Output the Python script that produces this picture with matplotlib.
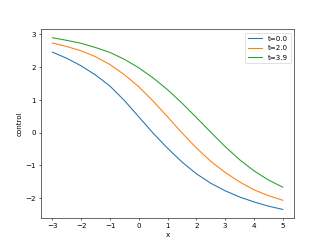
import matplotlib
matplotlib.use("Agg")
import matplotlib.pyplot as plt

x = [-3, -2.5, -2, -1.5, -1, -0.5, 0, 0.5, 1, 1.5, 2, 2.5, 3, 3.5, 4, 4.5, 5]
u_t0 = [2.46, 2.27, 2.04, 1.76, 1.42, 0.98, 0.48, -0.02, -0.48, -0.90, -1.26, -1.55, -1.78, -1.97, -2.12, -2.25, -2.35]
u_t2 = [2.74, 2.63, 2.50, 2.32, 2.08, 1.77, 1.40, 0.96, 0.48, -0.01, -0.47, -0.88, -1.22, -1.51, -1.75, -1.93, -2.07]
u_t39 = [2.90, 2.82, 2.73, 2.60, 2.45, 2.24, 1.98, 1.67, 1.31, 0.90, 0.46, 0.01, -0.43, -0.83, -1.17, -1.45, -1.67]
labels = ["t=0.0", "t=2.0", "t=3.9"]

fig, ax = plt.subplots(figsize=(6.4, 4.8), dpi=51.1)
for ys, lab in zip([u_t0, u_t2, u_t39], labels):
    ax.plot(x, ys, label=lab, lw=1.5)
ax.set_xlabel("x")
ax.set_ylabel("control")
ax.legend()
fig.savefig("out.png", dpi=51.1)
